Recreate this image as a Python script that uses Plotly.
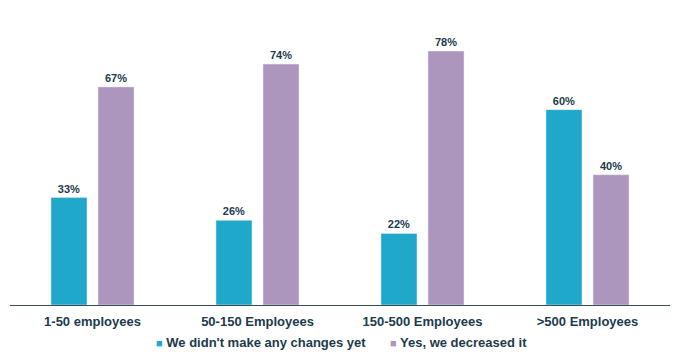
import plotly.graph_objects as go

categories = ["1-50 employees", "50-150 Employees", "150-500 Employees", ">500 Employees"]
no_changes = [33, 26, 22, 60]
decreased = [67, 74, 78, 40]
series_names = ["We didn't make any changes yet", "Yes, we decreased it"]
colors = ["#1FA8CA", "#AC96BE"]

text_color = "#1D3A4C"
font_family = "Liberation Sans, Arial, sans-serif"

fig = go.Figure()
for name, vals, col in zip(series_names, [no_changes, decreased], colors):
    fig.add_trace(go.Bar(
        x=categories, y=vals, name=name,
        marker=dict(color=col),
        text=[f"{v}%" for v in vals], textposition="outside",
        textfont=dict(family=font_family, size=11, color=text_color, weight="bold"),
        cliponaxis=False,
    ))

# legend drawn as text annotations (small coloured squares)
legend_x = [0.2182, 0.5728]
for name, col, lx in zip(series_names, colors, legend_x):
    fig.add_annotation(
        xref="paper", yref="paper", x=lx, y=-0.127, xanchor="left", yanchor="middle",
        showarrow=False,
        text=f"<span style='color:{col};font-size:11px'>■</span> {name}",
        font=dict(family=font_family, size=13, color=text_color, weight="bold"),
    )

fig.update_layout(
    width=680, height=359,
    margin=dict(l=10, r=10, t=12, b=54, autoexpand=False),
    paper_bgcolor="white", plot_bgcolor="white",
    barmode="group", bargap=0.43, bargroupgap=0.234,
    font=dict(family=font_family, color=text_color, size=13, weight="bold"),
    showlegend=False,
    xaxis=dict(showline=True, linecolor="#3A4A58", linewidth=1, ticks="",
               tickfont=dict(size=13, color=text_color, weight="bold"),
               showgrid=False, automargin=False, ticklabelstandoff=4),
    yaxis=dict(range=[0, 90], visible=False, showgrid=False, zeroline=False,
               automargin=False),
)

fig.write_html("out.html", config={"displayModeBar": False},
               post_script="document.body.style.margin='0';")
